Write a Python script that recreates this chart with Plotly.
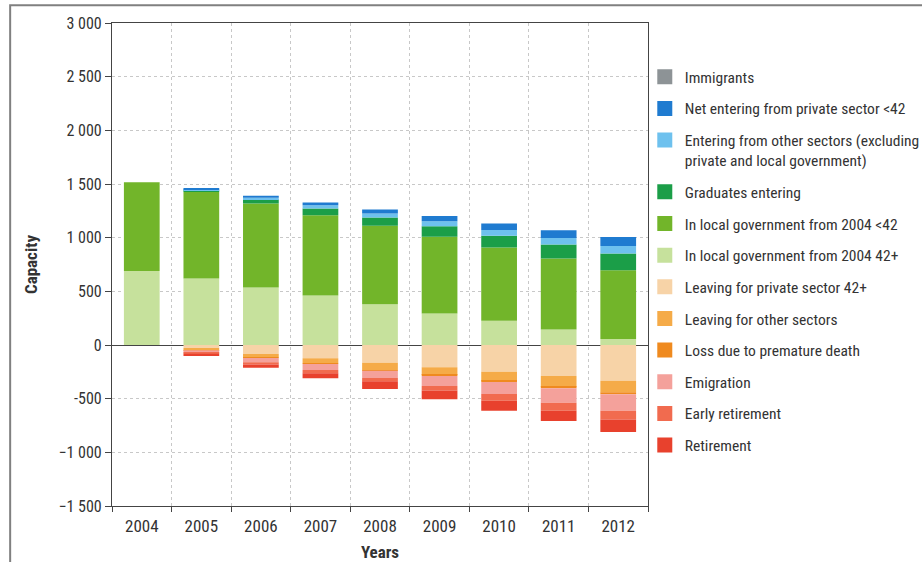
import plotly.graph_objects as go

years = ["2004", "2005", "2006", "2007", "2008", "2009", "2010", "2011", "2012"]

# Inflows (stacked upward from zero, in stacking order)
lg_42_plus = [690, 620, 536, 461, 380, 294, 225, 144, 57]
lg_under_42 = [827, 807, 783, 749, 730, 714, 684, 662, 640]
graduates = [0, 12, 37, 62, 78, 99, 109, 130, 155]
entering_other = [0, 10, 15, 31, 37, 47, 53, 62, 71]
net_private = [0, 14, 19, 25, 37, 47, 62, 71, 84]
immigrants = [0, 0, 0, 0, 0, 0, 0, 0, 0]

# Outflows (stacked downward from zero, in stacking order)
leave_private_42 = [0, -28, -84, -124, -165, -208, -249, -289, -332]
leave_other = [0, -19, -31, -47, -68, -71, -84, -99, -109]
premature_death = [0, -3, -5, -5, -6, -9, -12, -15, -19]
emigration = [0, -19, -40, -56, -68, -93, -112, -134, -152]
early_retirement = [0, -12, -22, -31, -31, -43, -62, -75, -81]
retirement = [0, -22, -31, -47, -72, -81, -93, -96, -118]

y_ticks = [-1500, -1000, -500, 0, 500, 1000, 1500, 2000, 2500, 3000]
y_tick_text = ["\u22121 500", "\u22121 000", "-500", "0", "500", "1 000", "1 500", "2 000", "2 500", "3 000"]

series = [
    ("In local government from 2004 42+", lg_42_plus, "#c6e19c", 6),
    ("In local government from 2004 <42", lg_under_42, "#72b52a", 5),
    ("Graduates entering", graduates, "#1b9e48", 4),
    ("Entering from other sectors (excluding<br>private and local government)", entering_other, "#6ec1ee", 3),
    ("Net entering from private sector <42", net_private, "#1f7bd0", 2),
    ("Immigrants", immigrants, "#8d9396", 1),
    ("Leaving for private sector 42+", leave_private_42, "#f7d3a7", 7),
    ("Leaving for other sectors", leave_other, "#f5ab48", 8),
    ("Loss due to premature death", premature_death, "#ef8a1f", 9),
    ("Emigration", emigration, "#f4a19b", 10),
    ("Early retirement", early_retirement, "#f16b4f", 11),
    ("Retirement", retirement, "#e8412d", 12),
]

fig = go.Figure()
for name, vals, color, rank in series:
    # stacked bar segment
    fig.add_trace(go.Bar(
        x=years, y=vals, name=name,
        marker=dict(color=color, line=dict(width=0)),
        showlegend=False, legendgroup=name,
        width=0.6,
    ))
    # large square swatch for the legend
    fig.add_trace(go.Scatter(
        x=[None], y=[None], mode="markers", name=name,
        marker=dict(symbol="square", size=15, color=color),
        legendrank=rank, legendgroup=name, hoverinfo="skip",
    ))

font_family = "Roboto Condensed, Liberation Sans Narrow, Roboto, sans-serif"

fig.update_layout(
    width=922, height=562,
    barmode="relative",
    plot_bgcolor="white", paper_bgcolor="white",
    margin=dict(l=112, r=274, t=23, b=56, autoexpand=False),
    font=dict(family=font_family, color="#333333", size=15),
    legend=dict(
        x=0.994, xanchor="left", y=0.923, yanchor="top",
        xref="paper", yref="paper",
        traceorder="grouped", tracegroupgap=8.5,
        valign="top",
        font=dict(size=15.5, color="#333333"),
        bgcolor="rgba(0,0,0,0)",
        itemwidth=30,
    ),
    xaxis=dict(
        title=dict(text="<b>Years</b>", font=dict(size=17, color="#333333"), standoff=12),
        showline=True, linecolor="#444444", linewidth=1.2, mirror=True,
        ticks="outside", ticklen=5, tickcolor="#444444",
        tickson="boundaries", ticklabelstandoff=4,
        showgrid=True, gridcolor="#c8c8c8", griddash="dot", gridwidth=1,
        tickfont=dict(size=17),
    ),
    yaxis=dict(
        title=dict(text="<b>Capacity</b>", font=dict(size=17, color="#333333"), standoff=16),
        range=[-1500, 3000],
        tickvals=y_ticks, ticktext=y_tick_text,
        showline=True, linecolor="#444444", linewidth=1.2, mirror=True,
        ticks="outside", ticklen=6, tickcolor="#444444",
        showgrid=True, gridcolor="#c8c8c8", griddash="dot", gridwidth=1,
        zeroline=True, zerolinecolor="#444444", zerolinewidth=1.2,
        tickfont=dict(size=16),
    ),
    shapes=[dict(
        type="rect", xref="paper", yref="paper",
        x0=-0.19, x1=1.8, y0=-0.3, y1=1.037,
        line=dict(color="#808080", width=2),
        layer="below",
    )],
)

fig.write_html("out.html")
